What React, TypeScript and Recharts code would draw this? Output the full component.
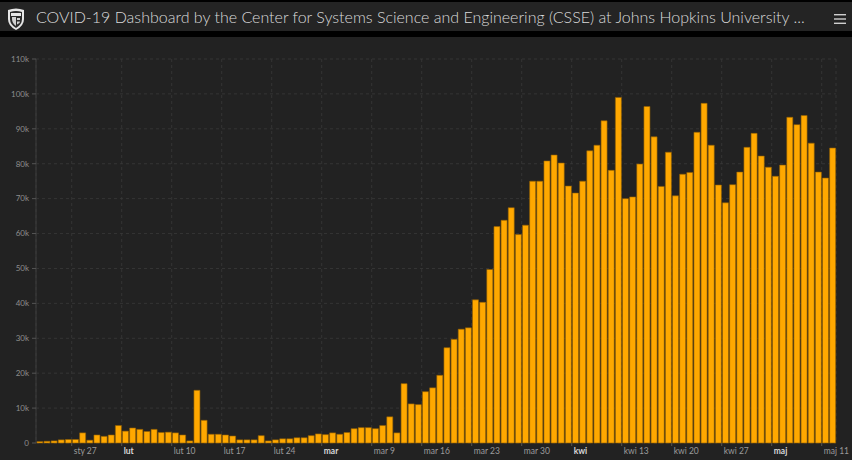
import React from 'react';
import { BarChart, Bar, XAxis, YAxis, CartesianGrid } from 'recharts';

// Daily new confirmed cases, one value per day starting 2020-01-22
const START_DATE = Date.UTC(2020, 0, 22);
const dailyCases: number[] = [
  400, 500, 600, 900, 1000, 1000, 2900, 800, 2300, 1900,
  2300, 5000, 3400, 4300, 3900, 3300, 3900, 3000, 3100, 2900,
  2300, 600, 15100, 6500, 2500, 2500, 2300, 2000, 900, 900,
  900, 2100, 600, 900, 1200, 1200, 1500, 1500, 2100, 2600,
  2400, 2900, 2500, 3000, 4100, 4400, 4400, 4100, 5000, 7500,
  2900, 17000, 11200, 11000, 14700, 15800, 19400, 27300, 29700, 32600,
  33000, 41000, 40300, 49700, 62000, 63800, 67400, 59700, 62400, 75000,
  75000, 80800, 82500, 80200, 73600, 71600, 75000, 83700, 85300, 92300,
  78100, 99000, 70000, 70500, 79900, 96400, 87700, 73500, 83300, 70800,
  77000, 77500, 89000, 97300, 85300, 73900, 68800, 74000, 77600, 84700,
  88700, 82200, 79000, 76400, 79600, 93300, 91200, 93800, 85900, 77600,
  75900, 84500,
];

// Weekly tick positions (day index from start) and their labels
const weekTickIndex: number[] = [5, 12, 19, 26, 33, 40, 47, 54, 61, 68, 75, 82, 89, 96, 103, 110];
const weekTickLabels: string[] = [
  'sty 27', 'lut', 'lut 10', 'lut 17', 'lut 24', 'mar', 'mar 9', 'mar 16',
  'mar 23', 'mar 30', 'kwi', 'kwi 13', 'kwi 20', 'kwi 27', 'maj', 'maj 11',
];

const yTicks: number[] = [0, 10000, 20000, 30000, 40000, 50000, 60000, 70000, 80000, 90000, 100000, 110000];

const TITLE = 'COVID-19 Dashboard by the Center for Systems Science and Engineering (CSSE) at Johns Hopkins University ...';

const data = dailyCases.map((v, i) => {
  const d = new Date(START_DATE + i * 86400000);
  return {
    date: d.toISOString().slice(0, 10),
    dayStart: i,
    cases: v,
  };
});

const FONT = 'Lato, "Open Sans", "DejaVu Sans", sans-serif';

const DayTick = (props: any) => {
  const { x, y, payload } = props;
  const idx = weekTickIndex.indexOf(payload.value);
  const label = idx >= 0 ? weekTickLabels[idx] : '';
  const isMonth = label.indexOf(' ') < 0;
  return (
    <text
      x={x + 2}
      y={y + 5}
      textAnchor="start"
      dominantBaseline="central"
      fontSize={8.5}
      fontFamily={FONT}
      fontWeight={isMonth ? 700 : 400}
      fill={isMonth ? '#d8d8d8' : '#9a9a9a'}
    >
      {label}
    </text>
  );
};

const yFormat = (v: number) => (v === 0 ? '0' : `${v / 1000}k`);

const Logo = () => (
  <svg width={20} height={24} viewBox="0 0 20 24" style={{ position: 'absolute', left: 6, top: 5 }}>
    <path d="M2 3 Q10 0 18 3 L18 12 Q18 19 10 23 Q2 19 2 12 Z" fill="#e6e6e6" />
    <path d="M4 5 Q10 3 16 5 L16 12 Q16 17.5 10 21 Q4 17.5 4 12 Z" fill="#2a2a2a" />
    <path d="M5 6 L15 6 L15 9 L5 9 Z" fill="#e6e6e6" />
    <path d="M6 10 L10 10 L10 19 Q6 16 6 12 Z" fill="#cfcfcf" />
    <path d="M11 11 L14 11 L14 13 L11 13 Z M11 14.5 L14 14.5 L13.5 16 L11 17.5 Z" fill="#cfcfcf" />
  </svg>
);

const Hamburger = () => (
  <svg width={12} height={12} style={{ position: 'absolute', left: 834, top: 11 }}>
    <rect x={0} y={1} width={12} height={1.4} fill="#cfcfcf" />
    <rect x={0} y={5.3} width={12} height={1.4} fill="#cfcfcf" />
    <rect x={0} y={9.6} width={12} height={1.4} fill="#cfcfcf" />
  </svg>
);

export default function App() {
  return (
    <div
      style={{
        position: 'absolute',
        left: 0,
        top: 0,
        width: 852,
        height: 460,
        background: '#000',
        overflow: 'hidden',
        fontFamily: FONT,
      }}
    >
      <div
        style={{
          position: 'absolute',
          left: 0,
          top: 2,
          width: 852,
          height: 29,
          background: '#242424',
        }}
      >
        <Logo />
        <div
          style={{
            position: 'absolute',
            left: 36,
            top: 0,
            height: 29,
            lineHeight: '29px',
            fontSize: 16,
            fontWeight: 300,
            color: '#dadada',
            whiteSpace: 'nowrap',
          }}
        >
          {TITLE}
        </div>
        <Hamburger />
      </div>
      <div
        style={{
          position: 'absolute',
          left: 0,
          top: 37,
          width: 852,
          height: 423,
          background: '#222222',
        }}
      >
        <BarChart
          width={852}
          height={423}
          data={data}
          margin={{ top: 22, right: 16, bottom: 0, left: 0 }}
          barCategoryGap={0.8}
        >
          <CartesianGrid
            xAxisId="days"
            stroke="#3a3a3a"
            strokeDasharray="3 3"
            strokeWidth={0.8}
          />
          <XAxis
            xAxisId="days"
            dataKey="dayStart"
            type="number"
            domain={[0, 112]}
            allowDataOverflow
            ticks={weekTickIndex}
            interval={0}
            height={17}
            tickSize={3}
            tickMargin={0}
            axisLine={false}
            tickLine={{ stroke: '#555' }}
            tick={<DayTick />}
          />
          <XAxis xAxisId="cat" dataKey="date" type="category" hide height={0} />
          <YAxis
            width={36}
            domain={[0, 110000]}
            ticks={yTicks}
            interval={0}
            tickFormatter={yFormat}
            tickSize={4}
            tickMargin={3}
            axisLine={{ stroke: '#3c3c3c' }}
            tickLine={{ stroke: '#555' }}
            tick={{ fontSize: 8, fill: '#8e8e8e', fontFamily: FONT }}
          />
          <Bar
            xAxisId="cat"
            dataKey="cases"
            fill="#ffa800"
            stroke="#946000"
            strokeWidth={0.6}
            isAnimationActive={false}
          />
        </BarChart>
      </div>
    </div>
  );
}
